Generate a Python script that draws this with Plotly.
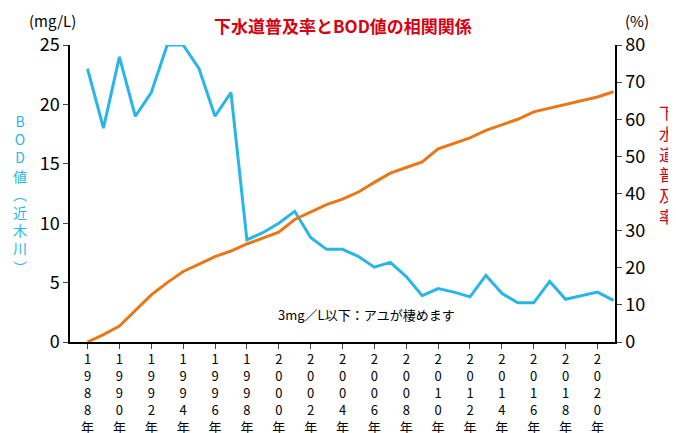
import plotly.graph_objects as go

years = list(range(1988, 2022))
bod = [23, 18, 24, 19, 21, 25, 25, 23, 19, 21, 8.6, 9.2, 10, 11, 8.8, 7.8, 7.8, 7.2, 6.3, 6.7,
       5.5, 3.9, 4.5, 4.2, 3.8, 5.6, 4.1, 3.3, 3.3, 5.1, 3.6, 3.9, 4.2, 3.5]
sewer = [0, 2, 4.3, 8.6, 12.7, 16, 19, 21, 23, 24.5, 26.4, 28, 29.6, 33, 35, 37, 38.5, 40.4, 43, 45.5,
         47, 48.5, 52, 53.6, 55, 57, 58.5, 60, 62, 63, 64, 65, 66, 67.4]
tick_years = list(range(1988, 2021, 2))
tick_text = ["<br>".join(list(str(y)) + ["年"]) for y in tick_years]

blue = "#29b6e6"
orange = "#e87817"
red = "#d7000f"
font = "Noto Sans CJK JP"

fig = go.Figure()
fig.add_trace(go.Scatter(x=years, y=bod, mode="lines", line=dict(color=blue, width=3), yaxis="y"))
fig.add_trace(go.Scatter(x=years, y=sewer, mode="lines", line=dict(color=orange, width=3), yaxis="y2"))

fig.update_layout(
    width=676, height=433, margin=dict(l=62, r=69, t=37, b=99),
    paper_bgcolor="white", plot_bgcolor="white", showlegend=False,
    font=dict(family=font, size=18, color="black"),
    xaxis=dict(range=[1986.9, 2021.1], tickvals=tick_years, ticktext=tick_text, automargin=False,
               showgrid=False, showline=True, linecolor="black", linewidth=1.5,
               ticks="outside", ticklen=5, tickfont=dict(size=13), zeroline=False),
    yaxis=dict(range=[0, 25], dtick=5, showgrid=False, showline=True, linecolor="black", automargin=False,
               linewidth=1.5, ticks="outside", ticklen=5, zeroline=False),
    yaxis2=dict(range=[0, 80], dtick=10, overlaying="y", side="right", showgrid=False, automargin=False,
                showline=True, linecolor="black", linewidth=1.5, ticks="outside", ticklen=5,
                zeroline=False),
    annotations=[
        dict(text="<b>下水道普及率とBOD値の相関関係</b>", x=0.5, y=1.0, xref="paper", yref="paper",
             yanchor="bottom", yshift=5, showarrow=False, font=dict(color=red, size=17)),
        dict(text="(mg/L)", x=0, y=1, xref="paper", yref="paper", xanchor="center", yanchor="bottom",
             xshift=-18, yshift=12, showarrow=False, font=dict(size=15)),
        dict(text="(%)", x=1, y=1, xref="paper", yref="paper", xanchor="center", yanchor="bottom",
             xshift=22, yshift=12, showarrow=False, font=dict(size=15)),
        dict(text="<br>".join("BOD値︵近木川︶"), x=0, y=0.5, xref="paper", yref="paper",
             xanchor="center", xshift=-50, showarrow=False, font=dict(color=blue, size=14)),
        dict(text="<br>".join("下水道普及率"), x=1, y=0.6, xref="paper", yref="paper",
             xanchor="center", xshift=52, showarrow=False, font=dict(color=red, size=16)),
        dict(text="3mg／L以下：アユが棲めます", x=2005.5, y=2.3, xref="x", yref="y",
             showarrow=False, font=dict(size=13)),
    ],
)
fig.write_html("out.html")
